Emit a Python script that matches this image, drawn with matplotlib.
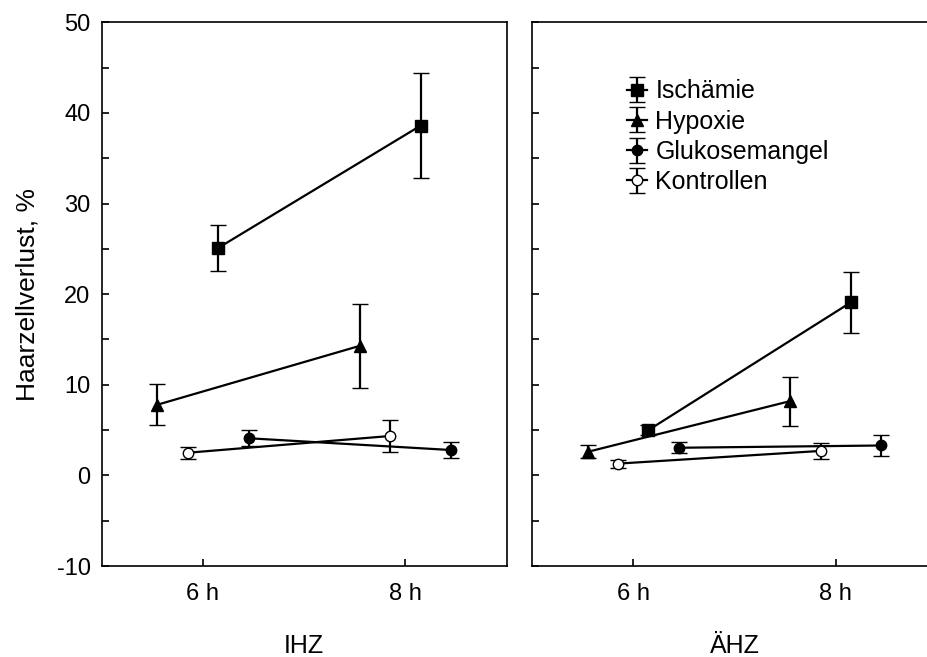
import numpy as np
import matplotlib
matplotlib.use('Agg')
import matplotlib.pyplot as plt
from matplotlib.ticker import MultipleLocator

plt.rcParams['font.family'] = ['Liberation Sans', 'DejaVu Sans']
plt.rcParams['axes.unicode_minus'] = False

#========================== data ===========================#
groups = ['Ischämie', 'Hypoxie', 'Glukosemangel', 'Kontrollen']
hours = [6, 8]
hour_labels = ['6 h', '8 h']
panels = ['IHZ', 'ÄHZ']

# IHZ (inner hair cells)
ihz_isch = [25.1, 38.6]
ihz_isch_err = [2.5, 5.8]
ihz_hyp = [7.8, 14.3]
ihz_hyp_err = [2.25, 4.6]
ihz_glu = [4.1, 2.8]
ihz_glu_err = [0.9, 0.9]
ihz_kon = [2.5, 4.35]
ihz_kon_err = [0.65, 1.8]

# ÄHZ (outer hair cells)
ahz_isch = [5.0, 19.1]
ahz_isch_err = [0.55, 3.4]
ahz_hyp = [2.6, 8.2]
ahz_hyp_err = [0.7, 2.7]
ahz_glu = [3.05, 3.3]
ahz_glu_err = [0.6, 1.2]
ahz_kon = [1.3, 2.7]
ahz_kon_err = [0.45, 0.9]

#========================== styles ===========================#
dodge = {'Ischämie': 0.15, 'Hypoxie': -0.45, 'Glukosemangel': 0.45, 'Kontrollen': -0.15}
marker = {'Ischämie': 's', 'Hypoxie': '^', 'Glukosemangel': 'o', 'Kontrollen': 'o'}
msize = {'Ischämie': 8, 'Hypoxie': 9, 'Glukosemangel': 7.5, 'Kontrollen': 7.5}
face = {'Ischämie': 'black', 'Hypoxie': 'black', 'Glukosemangel': 'black', 'Kontrollen': 'white'}

data = [
    {'Ischämie': (ihz_isch, ihz_isch_err), 'Hypoxie': (ihz_hyp, ihz_hyp_err),
     'Glukosemangel': (ihz_glu, ihz_glu_err), 'Kontrollen': (ihz_kon, ihz_kon_err)},
    {'Ischämie': (ahz_isch, ahz_isch_err), 'Hypoxie': (ahz_hyp, ahz_hyp_err),
     'Glukosemangel': (ahz_glu, ahz_glu_err), 'Kontrollen': (ahz_kon, ahz_kon_err)},
]

#========================== figure ===========================#
fig = plt.figure(figsize=(9.28, 6.57), dpi=100)
ax1 = fig.add_axes([0.1096, 0.1385, 0.4364, 0.8275])
ax2 = fig.add_axes([0.5733, 0.1385, 0.4364, 0.8275])

for k, ax in enumerate([ax1, ax2]):
    for g in groups:
        y, yerr = data[k][g]
        x = np.array(hours) + dodge[g]
        ax.errorbar(x, y, yerr=yerr, fmt='-', color='black', lw=1.6,
                    marker=marker[g], ms=msize[g], mfc=face[g], mec='black', mew=1.0,
                    elinewidth=1.6, capsize=6, capthick=1.6, label=g)
    ax.set_xlim(5, 9)
    ax.set_ylim(-10, 50)
    ax.set_xticks(hours)
    ax.set_xticklabels(hour_labels)
    ax.yaxis.set_major_locator(MultipleLocator(10))
    ax.yaxis.set_minor_locator(MultipleLocator(5))
    ax.tick_params(axis='both', which='both', direction='in', length=5, width=1.2,
                   labelsize=17, top=False, right=False)
    ax.tick_params(axis='x', pad=12)
    ax.tick_params(axis='y', pad=8)
    for s in ax.spines.values():
        s.set_linewidth(1.2)
    ax.set_xlabel(panels[k], fontsize=18, labelpad=21)

ax2.tick_params(axis='y', which='both', labelleft=False)
ax1.set_ylabel('Haarzellverlust, %', fontsize=19, labelpad=12)

#========================== legend ===========================#
ax2.legend(loc='upper left', bbox_to_anchor=(0.203, 0.918), frameon=False, fontsize=18,
           borderpad=0, handlelength=0.8, handletextpad=0.35, labelspacing=0.25)

#========================== save ===========================#
fig.savefig('out.png', dpi=100)
plt.close()
